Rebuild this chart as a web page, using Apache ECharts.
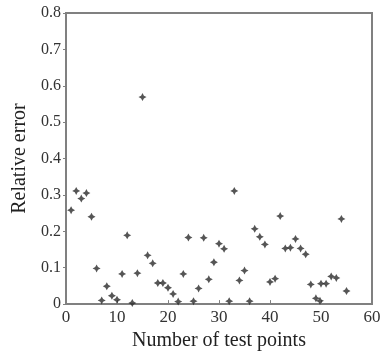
<!DOCTYPE html>
<html>
<head>
<meta charset="utf-8">
<script src="https://cdn.jsdelivr.net/npm/echarts@6/dist/echarts.min.js"></script>
<style>
html, body { margin: 0; padding: 0; background: #fff; }
#chart { width: 385px; height: 356px; }
</style>
</head>
<body>
<div id="chart"></div>
<script>
// test point number and relative error
var testPoints = [1, 2, 3, 4, 5, 6, 7, 8, 9, 10, 11, 12, 13, 14, 15, 16, 17, 18, 19, 20,
    21, 22, 23, 24, 25, 26, 27, 28, 29, 30, 31, 32, 33, 34, 35, 36, 37, 38, 39, 40,
    41, 42, 43, 44, 45, 46, 47, 48, 49, 49.8, 50, 51, 52, 53, 54, 55];
var relError = [0.258, 0.311, 0.29, 0.305, 0.24, 0.098, 0.01, 0.049, 0.023, 0.012,
    0.083, 0.189, 0.003, 0.085, 0.569, 0.134, 0.112, 0.058, 0.058, 0.045,
    0.028, 0.007, 0.083, 0.183, 0.008, 0.043, 0.182, 0.068, 0.115, 0.166,
    0.152, 0.008, 0.311, 0.065, 0.092, 0.008, 0.207, 0.185, 0.164, 0.061,
    0.07, 0.242, 0.153, 0.155, 0.179, 0.153, 0.137, 0.054, 0.016, 0.009,
    0.056, 0.056, 0.076, 0.072, 0.234, 0.036];
var xTicks = [0, 10, 20, 30, 40, 50, 60];
var yTicks = [0, 0.1, 0.2, 0.3, 0.4, 0.5, 0.6, 0.7, 0.8];

var points = testPoints.map(function (x, i) { return [x, relError[i]]; });
var font = 'Liberation Serif';
var star = 'path://M0,-10 L3.5,-3.5 L10,0 L3.5,3.5 L0,10 L-3.5,3.5 L-10,0 L-3.5,-3.5 Z';

var chart = echarts.init(document.getElementById('chart'));
chart.setOption({
    animation: false,
    grid: {
        left: 66, right: 13, top: 13, bottom: 45,
        show: true, borderColor: '#808080', borderWidth: 2
    },
    xAxis: {
        type: 'value',
        min: xTicks[0], max: xTicks[xTicks.length - 1], interval: 10,
        name: 'Number of test points',
        nameLocation: 'middle', nameGap: 20,
        nameTextStyle: { fontFamily: font, fontSize: 20, color: '#222' },
        axisLine: { onZero: false, lineStyle: { color: '#808080', width: 2 } },
        axisTick: { inside: true, length: 4, lineStyle: { color: '#808080' } },
        axisLabel: { fontFamily: font, fontSize: 17, color: '#333', margin: 5 },
        splitLine: { show: false }
    },
    yAxis: {
        type: 'value',
        min: yTicks[0], max: yTicks[yTicks.length - 1], interval: 0.1,
        name: 'Relative error',
        nameLocation: 'middle', nameGap: 34,
        nameTextStyle: { fontFamily: font, fontSize: 20, color: '#222' },
        axisLine: { show: true, onZero: false, lineStyle: { color: '#808080', width: 2 } },
        axisTick: { show: true, length: 3, lineStyle: { color: '#808080' } },
        axisLabel: {
            fontFamily: font, fontSize: 16, color: '#333', margin: 5,
            formatter: function (v) { return v === 0 ? '0' : v.toFixed(1); }
        },
        splitLine: { show: false }
    },
    series: [{
        type: 'scatter',
        data: points,
        symbol: star,
        symbolSize: 8,
        itemStyle: { color: '#2a2a2a' }
    }]
});
</script>
</body>
</html>
